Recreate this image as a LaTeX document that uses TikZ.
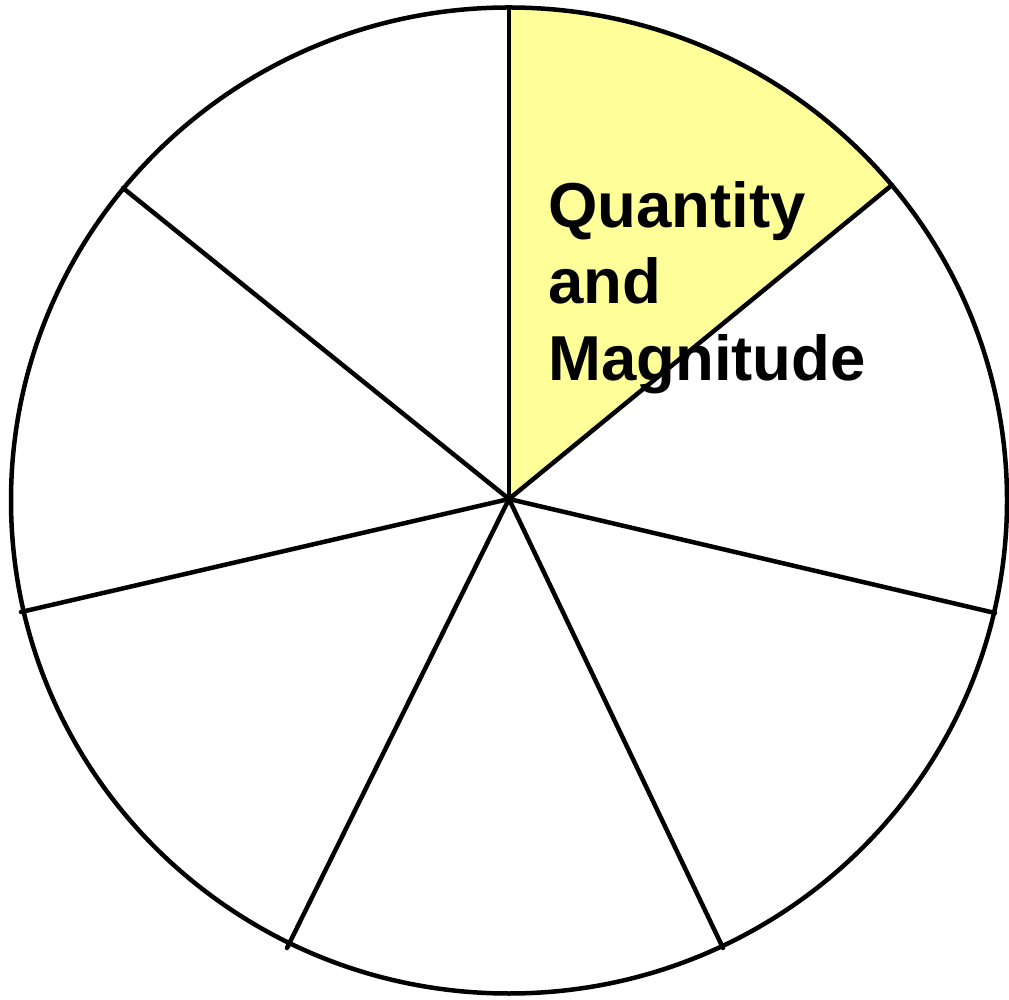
\documentclass[tikz,border=0pt]{standalone}
\usepackage{fontspec}
\setmainfont{Liberation Sans}
\definecolor{paleyellow}{RGB}{255,255,153}
\begin{document}
\begin{tikzpicture}[x=1pt,y=1pt,
  rim/.style={draw=black,line width=4.5pt},
  spoke/.style={draw=black,line width=4.5pt,line cap=round},
  label/.style={anchor=north west,inner sep=0pt,align=left,
    font=\fontsize{63.5}{76.5}\selectfont\bfseries}]
\useasboundingbox (0,0) rectangle (1009,999);
\coordinate (C) at (509,500);
\coordinate (O) at (509,498.5);
\coordinate (E0) at (509,991.5);
\coordinate (E1) at (892,814);
\coordinate (E2) at (995,386);
\coordinate (E3) at (723,51);
\coordinate (E4) at (287,51);
\coordinate (E5) at (21,387);
\coordinate (E6) at (123,811);
\fill[paleyellow] (C) -- (E0) arc[start angle=90,end angle=39.8,x radius=498pt,y radius=493pt] -- cycle;
\draw[rim] (O) ellipse [x radius=498pt,y radius=493pt];
\foreach \e in {E0,E1,E2,E3,E4,E5,E6}{\draw[spoke] (C) -- (\e);}
\node[label] (txt) at (548,818) {Quantity\\and\\Magnitude};
\end{tikzpicture}
\end{document}
